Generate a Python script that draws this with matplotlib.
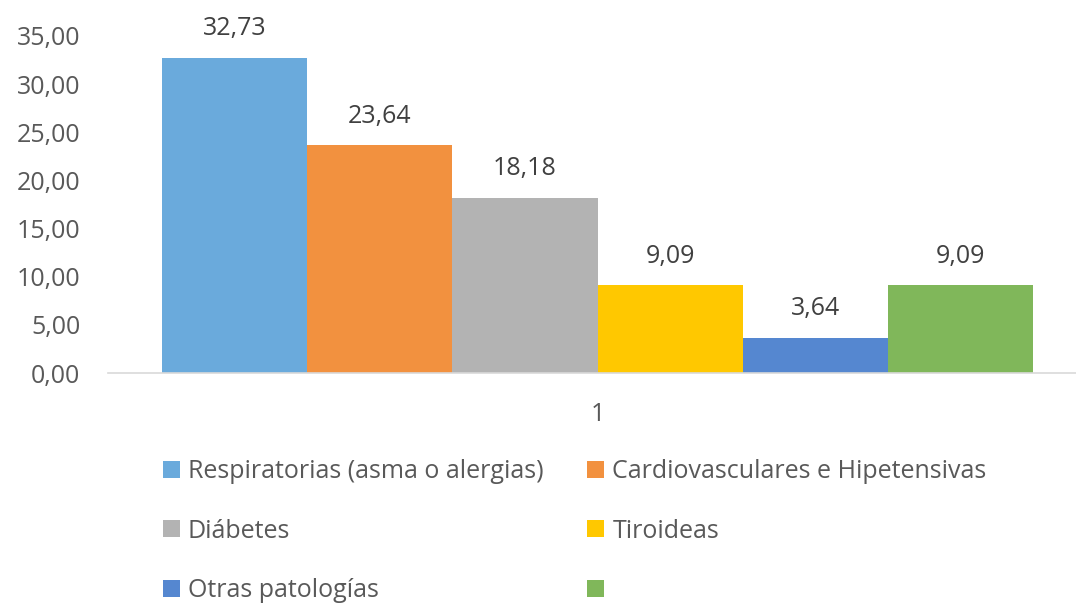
import matplotlib
matplotlib.use("Agg")
import matplotlib.pyplot as plt

categories = ["1"]
series_names = ["Respiratorias (asma o alergias)", "Cardiovasculares e Hipetensivas",
                "Diábetes", "Tiroideas", "Otras patologías", ""]
values = [32.73, 23.64, 18.18, 9.09, 3.64, 9.09]
colors = ["#6AAADC", "#F2913F", "#B3B3B3", "#FFC800", "#5587D0", "#80B75A"]
yticks = [0, 5, 10, 15, 20, 25, 30, 35]

plt.rcParams['font.family'] = ['Open Sans', 'DejaVu Sans']
FS = 18

fig = plt.figure(figsize=(10.76, 6.03), dpi=100)
ax = fig.add_axes([108/1076, 1-373/603, 979/1076, (373-36)/603])

n = len(values)
w = 1.0
handles = []
for i, (name, v, c) in enumerate(zip(series_names, values, colors)):
    x = (i - (n-1)/2) * w
    b = ax.bar(x, v, width=w, color=c, label=name)
    ax.bar_label(b, labels=[f"{v:.2f}".replace('.', ',')], padding=12,
                 fontsize=FS, color="#404040")
    handles.append(b)

half = 979/145.2/2
ax.set_xlim(-half, half)
ax.set_ylim(0, 35)
ax.set_yticks(yticks)
ax.set_yticklabels([f"{t:.2f}".replace('.', ',') for t in yticks], fontsize=FS, color="#595959")
ax.set_xticks([0])
ax.set_xticklabels(categories, fontsize=FS, color="#595959")
ax.tick_params(axis='both', length=0)
ax.tick_params(axis='x', pad=21)
ax.tick_params(axis='y', pad=20)
for s in ['top', 'right', 'left']:
    ax.spines[s].set_visible(False)
ax.spines['bottom'].set_color("#D9D9D9")
ax.spines['bottom'].set_linewidth(1.2)

order = [0, 2, 4, 1, 3, 5]
leg = fig.legend([handles[i] for i in order], [series_names[i] if series_names[i] else " " for i in order],
                 ncol=2, loc='upper left', bbox_to_anchor=(163/1076, 1-459/603),
                 frameon=False, fontsize=FS, labelcolor="#595959", borderpad=0, borderaxespad=0,
                 handlelength=0.68, handleheight=0.68, handletextpad=0.32,
                 labelspacing=1.38, columnspacing=1.75)

fig.savefig("out.png", dpi=100)
